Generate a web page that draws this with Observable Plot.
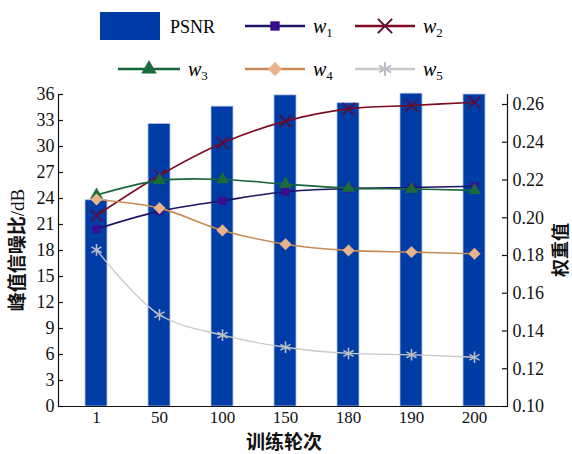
<!DOCTYPE html>
<html><head><meta charset="utf-8">
<script src="https://cdn.jsdelivr.net/npm/d3@7"></script>
<script src="https://cdn.jsdelivr.net/npm/@observablehq/plot@0.6"></script>
<style>
body{margin:0;background:#fff;}
#chart{width:572px;height:454px;position:relative;overflow:hidden;}
#chart svg{display:block;}
</style></head><body><div id="chart"></div>
<script>
// ---- data ----
const epochs = ["1", "50", "100", "150", "180", "190", "200"];
const psnr = [23.8, 32.6, 34.6, 35.9, 35.0, 36.1, 36.0];
const w1 = [0.194, 0.2035, 0.209, 0.2138, 0.2154, 0.216, 0.2167];
const w2 = [0.2012, 0.2224, 0.2396, 0.2512, 0.2577, 0.2595, 0.2612];
const w3 = [0.212, 0.2198, 0.2203, 0.2178, 0.2157, 0.2152, 0.2145];
const w4 = [0.2097, 0.2051, 0.1933, 0.186, 0.1827, 0.1818, 0.1809];
const w5 = [0.183, 0.1486, 0.1378, 0.1314, 0.1281, 0.1274, 0.1261];
const psnrTicks = [0, 3, 6, 9, 12, 15, 18, 21, 24, 27, 30, 33, 36];
const weightTicks = [0.10, 0.12, 0.14, 0.16, 0.18, 0.20, 0.22, 0.24, 0.26];
const seriesNames = ["w1", "w2", "w3", "w4", "w5"];
const xTitle = "训练轮次";
const yTitleCJK = "峰值信噪比";
const yTitleUnit = "/dB";
const y2Title = "权重值";

// ---- styles ----
const serif = "'Liberation Serif', 'Times New Roman', serif";
const barColor = "#003ca6";
const styles = {
  w1: {line: "#1d1466", mark: "#3b0e8e", symbol: "square", r: 4.2, width: 1.6},
  w2: {line: "#7d0b1f", mark: "#5a0d36", symbol: "times", r: 5.5, width: 1.6},
  w3: {line: "#16663a", mark: "#1b6b3c", symbol: "triangle", r: 4.6, width: 1.6},
  w4: {line: "#c98b54", mark: "#e8b389", symbol: "diamond2", r: 5.2, width: 1.6},
  w5: {line: "#c9c9c9", mark: "#b9bdc6", symbol: "asterisk", r: 5.5, width: 1.3}
};
const seriesValues = {w1, w2, w3, w4, w5};

const root = d3.select("#chart");

// ---- legend ----
const leg = root.append("svg").attr("width", 572).attr("height", 85);
leg.append("rect").attr("x", 100).attr("y", 12).attr("width", 60).attr("height", 28).attr("fill", barColor);
leg.append("text").attr("x", 170).attr("y", 33).style("font-family", serif).attr("font-size", 18).text("PSNR");
const legPos = {
  w1: [245, 26], w2: [355, 26], w3: [118, 69], w4: [245, 69], w5: [355, 69]
};
const d3sym = {square: d3.symbolSquare, times: d3.symbolTimes, triangle: d3.symbolTriangle, diamond2: d3.symbolDiamond2, asterisk: d3.symbolAsterisk};
const strokeOnly = {times: true, asterisk: true};
for (const name of seriesNames) {
  const s = styles[name];
  const [x0, y0] = legPos[name];
  const len = name === "w3" ? 62 : 60;
  leg.append("line").attr("x1", x0).attr("x2", x0 + len).attr("y1", y0).attr("y2", y0)
    .attr("stroke", s.line).attr("stroke-width", 2.6);
  const p = leg.append("path").attr("transform", `translate(${x0 + len / 2},${y0})`)
    .attr("d", d3.symbol(d3sym[s.symbol], Math.PI * s.r * s.r * 1.4)());
  if (strokeOnly[s.symbol]) p.attr("fill", "none").attr("stroke", s.mark).attr("stroke-width", 2);
  else p.attr("fill", s.mark).attr("stroke", s.mark).attr("stroke-width", 0.5);
  const t = leg.append("text").attr("x", x0 + len + 8).attr("y", y0 + 7)
    .style("font-family", serif).attr("font-size", 20).attr("font-style", "italic");
  t.append("tspan").text("w");
  t.append("tspan").attr("font-size", 13).attr("font-style", "normal").attr("dy", 4).text(name.slice(1));
}

// ---- chart ----
const H = 369, mL = 58, mR = 65, mT = 9, mB = 48;
const Y26 = (321 - 19) / 312 * 36; // 0.26 sits lower than 36
const wToY = d3.scaleLinear([0.10, 0.26], [0, Y26]);
const barRows = epochs.map((e, i) => ({epoch: e, psnr: psnr[i]}));
const lineRows = [];
for (const name of seriesNames) {
  epochs.forEach((e, i) => lineRows.push({epoch: e, series: name, v: wToY(seriesValues[name][i])}));
}
const frameW = 572 - mL - mR;

const marks = [
  Plot.barY(barRows, {x: "epoch", y: "psnr", fill: barColor, stroke: "#b4c3e6", strokeWidth: 0.8})
];
for (const name of seriesNames) {
  const s = styles[name];
  const rows = lineRows.filter(d => d.series === name);
  marks.push(Plot.line(rows, {x: "epoch", y: "v", stroke: s.line, strokeWidth: s.width, curve: "catmull-rom"}));
  marks.push(Plot.dot(rows, strokeOnly[s.symbol]
    ? {x: "epoch", y: "v", symbol: () => s.symbol, r: s.r, stroke: s.mark, strokeWidth: 1.6, fill: "none"}
    : {x: "epoch", y: "v", symbol: () => s.symbol, r: s.r, fill: s.mark, stroke: s.mark, strokeWidth: 0.5}));
}
marks.push(
  Plot.ruleY([0], {stroke: "#111", strokeWidth: 1.2}),
  Plot.frame({anchor: "left", stroke: "#111", strokeWidth: 1.2}),
  Plot.frame({anchor: "right", stroke: "#111", strokeWidth: 1.2}),
  Plot.tickY(psnrTicks, {y: d => d, insetRight: frameW - 5, stroke: "#111", strokeWidth: 1.2}),
  Plot.tickY(weightTicks.map(w => wToY(w)), {y: d => d, insetLeft: frameW - 5, stroke: "#111", strokeWidth: 1.2}),
  Plot.axisY(psnrTicks, {anchor: "left", tickSize: 0, tickPadding: 4, label: null, fontSize: 18}),
  Plot.axisY(weightTicks.map(w => wToY(w)), {anchor: "right", tickSize: 0, tickPadding: 5, label: null, fontSize: 18,
    tickFormat: d => wToY.invert(d).toFixed(2)}),
  Plot.axisX({tickSize: 0, tickPadding: 4, label: null, fontSize: 17})
);

const chart = Plot.plot({
  width: 572, height: H, marginLeft: mL, marginRight: mR, marginTop: mT, marginBottom: mB,
  x: {type: "band", domain: epochs, range: [64, 506], paddingInner: 0.65, paddingOuter: 0.325, align: 0.5},
  y: {domain: [0, 36]},
  style: {fontFamily: serif, fontSize: "18px", color: "#111", background: "#fff", overflow: "visible"},
  marks
});
root.node().appendChild(chart);

// force serif on the tick labels
d3.select(chart).selectAll("text").style("font-family", serif).style("fill", "#111");

// ---- axis titles ----
const svg = d3.select(chart);
const cjk = "'Noto Sans CJK SC', sans-serif";
const lt = svg.append("text").attr("transform", `translate(24,${250 - 85}) rotate(-90)`)
  .attr("text-anchor", "middle").attr("font-size", 19).attr("fill", "#111");
lt.append("tspan").style("font-family", cjk).attr("font-weight", "bold").text(yTitleCJK);
lt.append("tspan").style("font-family", serif).text(yTitleUnit);
svg.append("text").attr("transform", `translate(567,${250 - 85}) rotate(-90)`)
  .attr("text-anchor", "middle").attr("font-size", 18).style("font-family", cjk).attr("font-weight", "bold")
  .attr("fill", "#111").text(y2Title);
svg.append("text").attr("x", 284).attr("y", 364).attr("text-anchor", "middle")
  .attr("font-size", 19).style("font-family", cjk).attr("font-weight", "bold").attr("fill", "#111").text(xTitle);
</script></body></html>
